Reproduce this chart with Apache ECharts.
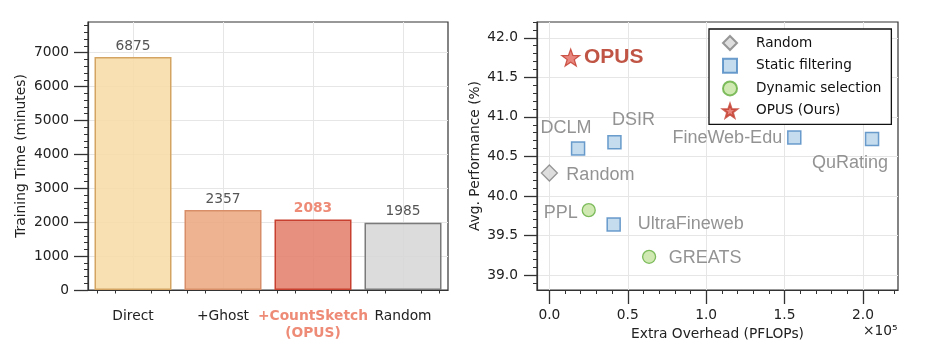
<!DOCTYPE html>
<html><head><meta charset="utf-8">
<script src="https://cdn.jsdelivr.net/npm/echarts@6/dist/echarts.min.js"></script>
<style>html,body{margin:0;padding:0;background:#fff}#c{width:936px;height:348px}</style>
</head><body><div id="c"></div>
<script>
// ---------- data ----------
const barCategories = ['Direct', '+Ghost', '+CountSketch\n(OPUS)', 'Random'];
const barValues = [6875, 2357, 2083, 1985];
const barTicks = [0, 1000, 2000, 3000, 4000, 5000, 6000, 7000];

const randomNames = ['Random'];
const randomPoints = [[0.0, 40.29]];
const staticNames = ['DCLM', 'DSIR', 'FineWeb-Edu', 'QuRating', 'UltraFineweb'];
const staticPoints = [[0.183, 40.60], [0.415, 40.68], [1.562, 40.74], [2.058, 40.72], [0.410, 39.64]];
const dynamicNames = ['PPL', 'GREATS'];
const dynamicPoints = [[0.251, 39.82], [0.636, 39.23]];
const opusNames = ['OPUS'];
const opusPoints = [[0.136, 41.75]];
const overheadTicks = [0.0, 0.5, 1.0, 1.5, 2.0];
const perfTicks = [39.0, 39.5, 40.0, 40.5, 41.0, 41.5, 42.0];

// ---------- styles / layout ----------
const barStyles = [
  {color: 'rgba(247,218,164,0.85)', borderColor: '#D4A562'},
  {color: 'rgba(235,167,126,0.85)', borderColor: '#D88E68'},
  {color: 'rgba(227,125,105,0.85)', borderColor: '#C8402F'},
  {color: 'rgba(214,214,214,0.85)', borderColor: '#7A7A7A'}
];
const labelOffsets = {
  'Random': [51, 2], 'DCLM': [-12, -20], 'DSIR': [19, -22], 'FineWeb-Edu': [-67, 1],
  'QuRating': [-22, 24], 'UltraFineweb': [77, 0], 'PPL': [-28, 3], 'GREATS': [56, 1], 'OPUS': [43, 0]
};
const STAR = 'path://M0,-10 L2.35,-3.24 L9.51,-3.09 L3.8,1.24 L5.88,8.09 L0,4 L-5.88,8.09 L-3.8,1.24 L-9.51,-3.09 L-2.35,-3.24 Z';
const TICKFONT = {fontFamily: 'DejaVu Sans', fontSize: 13.8, color: '#222'};
const AXC = '#333';
const GRIDC = '#e6e6e6';

function minorFrom(majors, step, count, lo, hi) {
  const out = [];
  const all = [majors[0] - (majors[1] - majors[0])].concat(majors);
  all.forEach(t => { for (let k = 1; k < count; k++) { const v = +(t + k * step).toFixed(6); if (v >= lo && v <= hi) out.push(v); } });
  return out;
}
const barMinor = [];
barCategories.forEach((c, i) => { [-0.4, -0.2, 0.2, 0.4].forEach(d => barMinor.push(i + d)); });
const yLeftMinor = minorFrom(barTicks.concat([8000]), 200, 5, 0, 7906);
const xRightMinor = minorFrom(overheadTicks.concat([2.5]), 0.1, 5, -0.079, 2.2235);
const yRightMinor = minorFrom(perfTicks.concat([42.5]), 0.1, 5, 38.81, 42.2);

function pointData(names, pts) {
  return pts.map((p, i) => ({name: names[i], value: p, label: {offset: labelOffsets[names[i]]}}));
}
const pointLabel = {show: true, position: 'inside', formatter: '{b}', fontFamily: 'Liberation Sans', fontSize: 18, color: '#787878'};
const noLine = {show: false, onZero: false};

const chart = echarts.init(document.getElementById('c'), null, {renderer: 'canvas'});
chart.setOption({
  animation: false,
  backgroundColor: '#fff',
  grid: [
    {left: 88, top: 22, width: 360, height: 268, show: true, borderColor: AXC, borderWidth: 1.2, backgroundColor: 'transparent'},
    {left: 537, top: 22, width: 361, height: 268, show: true, borderColor: AXC, borderWidth: 1.2, backgroundColor: 'transparent'}
  ],
  xAxis: [
    {type: 'category', gridIndex: 0, position: 'bottom', data: barCategories,
     axisLine: {onZero: false, lineStyle: {color: AXC, width: 1.2}},
     axisTick: {alignWithLabel: true, length: 14, lineStyle: {color: AXC, width: 1.3}},
     axisLabel: Object.assign({}, TICKFONT, {interval: 0, margin: 18, lineHeight: 17,
       formatter: (v) => v.indexOf('OPUS') >= 0 ? v.split('\n').map(s => '{h|' + s + '}').join('\n') : v,
       rich: {h: {fontFamily: 'DejaVu Sans', fontSize: 13.8, fontWeight: 'bold', color: '#EE8B77', lineHeight: 17}}}),
     splitLine: {show: false}},
    {type: 'value', gridIndex: 0, position: 'bottom', min: -0.5, max: 3.5, axisLine: noLine, axisLabel: {show: false},
     axisTick: {show: false, customValues: barCategories.map((c, i) => i)},
     splitLine: {show: true, lineStyle: {color: GRIDC, width: 1}}},
    {type: 'value', gridIndex: 0, position: 'bottom', min: -0.5, max: 3.5, axisLine: noLine, axisLabel: {show: false},
     axisTick: {show: true, customValues: barMinor, length: 3.5, lineStyle: {color: AXC, width: 1}},
     splitLine: {show: false}},
    {type: 'value', gridIndex: 1, position: 'bottom', min: -0.079, max: 2.2235,
     axisLine: {onZero: false, lineStyle: {color: AXC, width: 1.2}},
     axisTick: {customValues: overheadTicks, length: 14, lineStyle: {color: AXC, width: 1.3}},
     axisLabel: Object.assign({}, TICKFONT, {customValues: overheadTicks, margin: 18, formatter: v => v.toFixed(1)}),
     splitLine: {show: true, lineStyle: {color: GRIDC, width: 1}},
     name: 'Extra Overhead (PFLOPs)', nameLocation: 'middle', nameGap: 37, nameTextStyle: TICKFONT},
    {type: 'value', gridIndex: 1, position: 'bottom', min: -0.079, max: 2.2235, axisLine: noLine, axisLabel: {show: false},
     axisTick: {show: true, customValues: xRightMinor, length: 4, lineStyle: {color: AXC, width: 1}},
     splitLine: {show: false}}
  ],
  yAxis: [
    {type: 'value', gridIndex: 0, position: 'left', min: 0, max: 7906.25,
     axisLine: {show: true, onZero: false, lineStyle: {color: AXC, width: 1.2}},
     axisTick: {show: true, customValues: barTicks, length: 14, lineStyle: {color: AXC, width: 1.3}},
     axisLabel: Object.assign({}, TICKFONT, {customValues: barTicks, margin: 19, formatter: v => String(v)}),
     splitLine: {show: true, lineStyle: {color: GRIDC, width: 1}},
     name: 'Training Time (minutes)', nameLocation: 'middle', nameGap: 60, nameTextStyle: TICKFONT},
    {type: 'value', gridIndex: 0, position: 'left', min: 0, max: 7906.25, axisLine: noLine, axisLabel: {show: false},
     axisTick: {show: true, customValues: yLeftMinor, length: 4, lineStyle: {color: AXC, width: 1}},
     splitLine: {show: false}},
    {type: 'value', gridIndex: 1, position: 'left', min: 38.81, max: 42.2,
     axisLine: {show: true, onZero: false, lineStyle: {color: AXC, width: 1.2}},
     axisTick: {show: true, customValues: perfTicks, length: 13, lineStyle: {color: AXC, width: 1.3}},
     axisLabel: Object.assign({}, TICKFONT, {customValues: perfTicks, margin: 19, formatter: v => v.toFixed(1)}),
     splitLine: {show: true, lineStyle: {color: GRIDC, width: 1}},
     name: 'Avg. Performance (%)', nameLocation: 'middle', nameGap: 55, nameTextStyle: TICKFONT},
    {type: 'value', gridIndex: 1, position: 'left', min: 38.81, max: 42.2, axisLine: noLine, axisLabel: {show: false},
     axisTick: {show: true, customValues: yRightMinor, length: 4, lineStyle: {color: AXC, width: 1}},
     splitLine: {show: false}}
  ],
  legend: {
    left: 709, top: 29, orient: 'vertical',
    backgroundColor: '#fff', borderColor: '#111', borderWidth: 1.3, borderRadius: 0,
    padding: [6, 10, 6, 13], itemWidth: 14, itemHeight: 14, itemGap: 6.7,
    textStyle: {fontFamily: 'DejaVu Sans', fontSize: 13.6, color: '#111', padding: [0, 0, 0, 14]},
    data: ['Random', 'Static filtering', 'Dynamic selection', 'OPUS (Ours)']
  },
  graphic: [
    {type: 'text', left: 863, top: 324, style: {text: '×10⁵', fontFamily: 'DejaVu Sans', fontSize: 13.8, fill: '#222'}}
  ],
  series: [
    {type: 'bar', xAxisIndex: 0, yAxisIndex: 0, barWidth: 77,
     data: barValues.map((v, i) => ({value: v, itemStyle: {color: barStyles[i].color, borderColor: barStyles[i].borderColor, borderWidth: 1.5},
       label: i === 2 ? {fontWeight: 'bold', color: '#EE8B77'} : {}})),
     label: {show: true, position: 'top', distance: 4, fontFamily: 'DejaVu Sans', fontSize: 13.8, color: '#555'}},
    {name: 'Random', type: 'scatter', xAxisIndex: 3, yAxisIndex: 2, symbol: 'diamond', symbolSize: 16,
     itemStyle: {color: '#D6D6D6', borderColor: '#7F7F7F', borderWidth: 1.3},
     data: pointData(randomNames, randomPoints), label: pointLabel, z: 3},
    {name: 'Static filtering', type: 'scatter', xAxisIndex: 3, yAxisIndex: 2, symbol: 'rect', symbolSize: 13,
     itemStyle: {color: '#B7D3EA', borderColor: '#4A86C0', borderWidth: 1.5},
     data: pointData(staticNames, staticPoints), label: pointLabel, z: 3},
    {name: 'Dynamic selection', type: 'scatter', xAxisIndex: 3, yAxisIndex: 2, symbol: 'circle', symbolSize: 13,
     itemStyle: {color: '#C4E4A0', borderColor: '#62AC3C', borderWidth: 1.3},
     data: pointData(dynamicNames, dynamicPoints), label: pointLabel, z: 3},
    {name: 'OPUS (Ours)', type: 'scatter', xAxisIndex: 3, yAxisIndex: 2, symbol: STAR, symbolSize: [18, 17],
     itemStyle: {color: '#E2675C', borderColor: '#C0392B', borderWidth: 1.2},
     data: pointData(opusNames, opusPoints),
     label: {show: true, position: 'inside', formatter: '{b}', fontFamily: 'Liberation Sans', fontWeight: 'bold', fontSize: 21, color: '#B02A17'}, z: 3}
  ]
});
</script></body></html>
